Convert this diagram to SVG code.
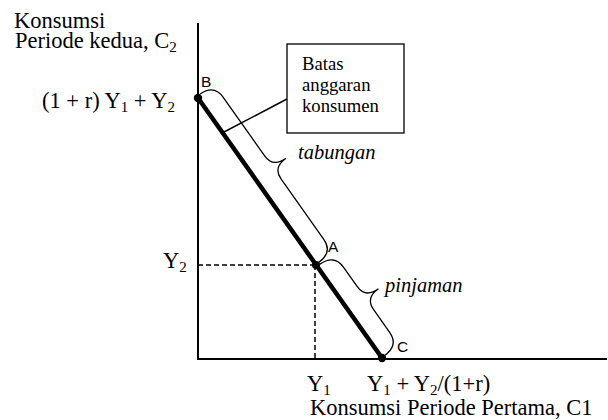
<svg xmlns="http://www.w3.org/2000/svg" width="608" height="420" viewBox="0 0 608 420">
<style>
.serif{font-family:"Liberation Serif","Times New Roman",serif;fill:#000}
.t{font-size:22.5px}
.sub{font-size:15px}
.sans{font-family:"Liberation Sans",Arial,sans-serif;font-size:15.5px;fill:#000}
.it{font-style:italic;font-size:20.5px}
.bx{font-size:18.7px}
.axis{stroke:#000;stroke-width:2;fill:none}
.dash{stroke:#000;stroke-width:1.5;stroke-dasharray:5 3;fill:none}
.brace{stroke:#000;stroke-width:1.3;fill:none}
</style>
<rect width="608" height="420" fill="#fff"/>
<g id="axes">
<path class="axis" d="M198,23 V359 H607"/>
</g>
<g id="axis-labels">
<text class="serif t" x="14" y="28">Konsumsi</text>
<text class="serif t" x="15" y="48">Periode kedua, C<tspan class="sub" dy="4">2</tspan></text>
<text class="serif t" x="310" y="415">Konsumsi Periode Pertama, C1</text>
</g>
<g id="connectors">
<path class="dash" d="M198,265 H316"/>
<path class="dash" d="M315,265 V359"/>
<line x1="287" y1="99" x2="224" y2="132" stroke="#000" stroke-width="1.5"/>
</g>
<g id="budget-line">
<line x1="198" y1="98" x2="382" y2="358" stroke="#000" stroke-width="4.5"/>
</g>
<g id="node-B">
<circle cx="198" cy="98" r="4.2" fill="#000"/>
<text class="sans" x="201" y="87">B</text>
<text class="serif t" x="42" y="108">(1 + r) Y<tspan class="sub" dy="4">1</tspan><tspan dy="-4"> + Y</tspan><tspan class="sub" dy="4">2</tspan></text>
</g>
<g id="node-A">
<circle cx="316" cy="265" r="4" fill="#000"/>
<text class="sans" x="328" y="251.5">A</text>
<text class="serif t" x="163" y="268">Y<tspan class="sub" dy="4">2</tspan></text>
<text class="serif t" x="307" y="391">Y<tspan class="sub" dy="4">1</tspan></text>
</g>
<g id="node-C">
<circle cx="382" cy="358" r="4.2" fill="#000"/>
<text class="sans" x="397" y="351.5">C</text>
<text class="serif t" x="367" y="391">Y<tspan class="sub" dy="4">1</tspan><tspan dy="-4"> + Y</tspan><tspan class="sub" dy="4">2</tspan><tspan dy="-4">/(1+r)</tspan></text>
</g>
<g id="box-batas">
<rect x="287" y="44" width="117" height="89" fill="#fff" stroke="#000" stroke-width="1.3"/>
<text class="serif bx" x="302" y="70">Batas</text>
<text class="serif bx" x="302" y="91">anggaran</text>
<text class="serif bx" x="302" y="112">konsumen</text>
</g>
<g id="brace-tabungan">
<path class="brace" transform="translate(198,98) rotate(54.7)" d="M-2,-4 Q-2,-21 14,-21 L86,-21 Q100,-21 100,-37 Q100,-21 114,-21 L188,-21 Q204,-21 204,-3"/>
<text class="serif it" x="298" y="159">tabungan</text>
</g>
<g id="brace-pinjaman">
<path class="brace" transform="translate(198,98) rotate(54.7)" d="M206,-3 Q206,-21 222,-21 L246,-21 Q260,-21 260,-37 Q260,-21 274,-21 L302,-21 Q318,-21 318,-3"/>
<text class="serif it" x="385" y="292">pinjaman</text>
</g>
</svg>
